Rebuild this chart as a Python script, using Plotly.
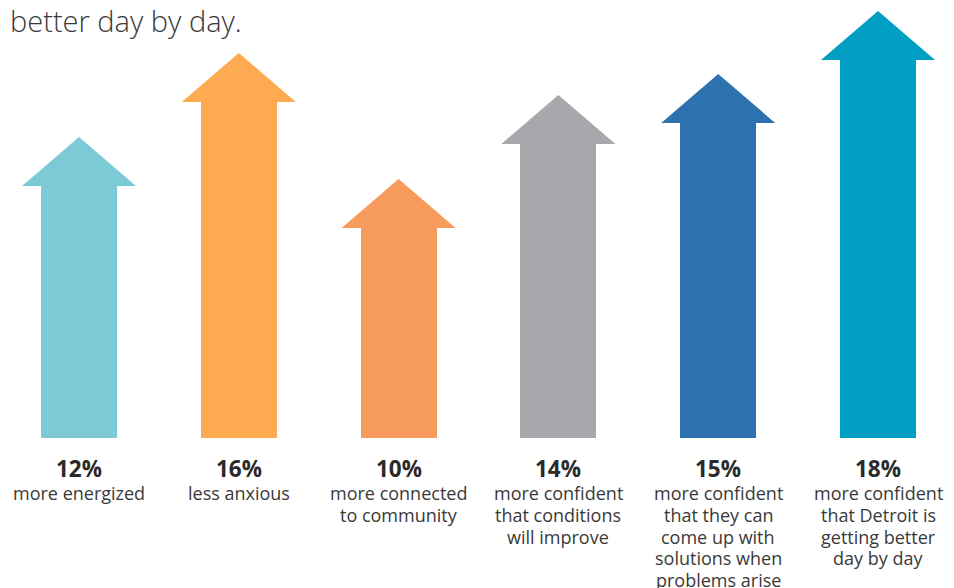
import plotly.graph_objects as go

values = [12, 16, 10, 14, 15, 18]
pct_labels = ["12%", "16%", "10%", "14%", "15%", "18%"]
descriptions = [
    ["more energized"],
    ["less anxious"],
    ["more connected", "to community"],
    ["more confident", "that conditions", "will improve"],
    ["more confident", "that they can", "come up with", "solutions when", "problems arise"],
    ["more confident", "that Detroit is", "getting better", "day by day"],
]
colors = ["#7BCAD6", "#FEAA51", "#F69B5B", "#A7A8AB", "#2D72AF", "#009EC2"]
title_text = "better day by day."

PX_X = 159.8
PX_Y = 21.0
shaft_w = 76 / PX_X
head_hw = 57 / PX_X
head_h = 49 / PX_Y
LINE_PX = 21.75

xs = list(range(len(values)))
fig = go.Figure()
fig.add_trace(go.Bar(x=xs, y=values, base=0, width=shaft_w,
                     marker=dict(color=colors, line=dict(width=0)),
                     hoverinfo="skip", showlegend=False))
for i, v in enumerate(values):
    fig.add_trace(go.Scatter(
        x=[i - head_hw, i, i + head_hw, i - head_hw],
        y=[v, v + head_h, v, v],
        mode="lines", fill="toself", fillcolor=colors[i],
        line=dict(width=0, color=colors[i]), hoverinfo="skip", showlegend=False))
    fig.add_annotation(x=i, y=-30 / PX_Y, xref="x", yref="y", text="<b>%s</b>" % pct_labels[i],
                       showarrow=False, yanchor="middle", xanchor="center",
                       font=dict(family="Open Sans", size=22.5, color="#2a2a2a"))
    for j, line in enumerate(descriptions[i]):
        fig.add_annotation(x=i, y=-(55 + j * LINE_PX) / PX_Y, xref="x", yref="y", text=line,
                           showarrow=False, yanchor="middle", xanchor="center",
                           font=dict(family="Open Sans", size=18, color="#3a3a3a"))

fig.add_annotation(x=8 / 954, y=1 - 20 / 588, xref="paper", yref="paper", text=title_text,
                   showarrow=False, xanchor="left", yanchor="middle",
                   font=dict(family="Open Sans", size=29, color="#3a3a3a", weight=300))

fig.update_layout(
    width=954, height=588,
    margin=dict(l=0, r=0, t=0, b=0),
    paper_bgcolor="white", plot_bgcolor="white",
    xaxis=dict(range=[-79 / PX_X, (954 - 79) / PX_X], visible=False, fixedrange=True),
    yaxis=dict(range=[-(588 - 438) / PX_Y, 438 / PX_Y], visible=False, fixedrange=True),
    bargap=0,
)
fig.write_html("out.html")
